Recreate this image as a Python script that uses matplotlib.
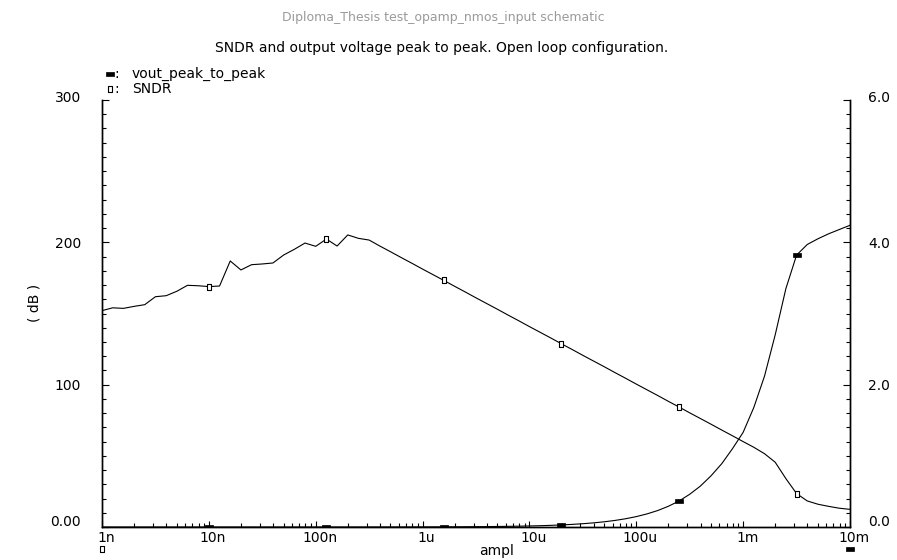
import numpy as np
import matplotlib
matplotlib.use("Agg")
import matplotlib.pyplot as plt
from matplotlib.ticker import FixedLocator, FixedFormatter, LogLocator, NullFormatter, MultipleLocator
from matplotlib.transforms import ScaledTranslation

# ---- sweep: input amplitude, 10 points per decade from 1n to 10m ----
ampl = np.logspace(-9, -2, 71)

# SNDR (dB), left axis
sndr_db = [
    152.0, 154.0, 153.6, 155.0, 156.2, 161.8, 162.5, 165.6, 169.8, 169.5,
    168.9, 169.3, 186.9, 180.6, 184.3, 184.8, 185.5, 191.1, 195.1, 199.5,
    197.2, 202.3, 197.4, 205.2, 202.8, 201.6, 197.4, 193.4, 189.3, 185.3,
    181.2, 177.2, 173.2, 169.1, 165.1, 161.0, 157.0, 153.0, 148.9, 144.9,
    140.8, 136.8, 132.8, 128.7, 124.7, 120.6, 116.6, 112.6, 108.5, 104.5,
    100.4, 96.4, 92.4, 88.3, 84.3, 80.2, 76.2, 72.2, 68.1, 64.1,
    60.0, 56.0, 51.5, 45.5, 34.0, 23.5, 18.3, 16.0, 14.5, 13.2,
    12.4,
]

# output voltage peak to peak (V), right axis
vout_pp = [
    1.46e-6, 1.84e-6, 2.31e-6, 2.91e-6, 3.67e-6, 4.62e-6, 5.81e-6, 7.32e-6, 9.21e-6, 1.16e-5,
    1.46e-5, 1.84e-5, 2.31e-5, 2.91e-5, 3.67e-5, 4.62e-5, 5.81e-5, 7.32e-5, 9.21e-5, 1.16e-4,
    1.46e-4, 1.84e-4, 2.31e-4, 2.91e-4, 3.67e-4, 4.62e-4, 5.81e-4, 7.32e-4, 9.21e-4, 1.16e-3,
    1.46e-3, 1.84e-3, 2.31e-3, 2.91e-3, 3.67e-3, 4.62e-3, 5.81e-3, 7.32e-3, 9.21e-3, 0.0116,
    0.0146, 0.0184, 0.0231, 0.0291, 0.0367, 0.0462, 0.0581, 0.0732, 0.0921, 0.116,
    0.146, 0.184, 0.231, 0.291, 0.365, 0.46, 0.575, 0.72, 0.89, 1.10,
    1.33, 1.68, 2.12, 2.70, 3.35, 3.82, 3.97, 4.05, 4.12, 4.18,
    4.24,
]

x_ticks = [1e-9, 1e-8, 1e-7, 1e-6, 1e-5, 1e-4, 1e-3, 1e-2]
x_tick_labels = ["1n", "10n", "100n", "1u", "10u", "100u", "1m", "10m"]
left_ticks = [0, 100, 200, 300]
left_tick_labels = ["0.00", "100", "200", "300"]
right_ticks = [0.0, 2.0, 4.0, 6.0]
right_tick_labels = ["0.0", "2.0", "4.0", "6.0"]

header = "Diploma_Thesis test_opamp_nmos_input schematic"
title = "SNDR and output voltage peak to peak. Open loop configuration."
legend_names = ["vout_peak_to_peak", "SNDR"]

W, H = 897, 560
plt.rcParams["font.family"] = ["DejaVu Sans"]

fig = plt.figure(figsize=(W / 100, H / 100), dpi=100)
fig.patch.set_facecolor("white")


def fpx(x, y):
    """pixel position (from top-left) to figure fraction"""
    return x / W, 1 - y / H


x0, y0 = fpx(102, 527)
x1, y1 = fpx(850, 100)
ax = fig.add_axes([x0, y0, x1 - x0, y1 - y0])
ax2 = ax.twinx()

# marker shapes: hollow upright box for SNDR, filled flat bar for vout
box = [(-0.3, -0.5), (0.3, -0.5), (0.3, 0.5), (-0.3, 0.5), (-0.3, -0.5)]
bar = [(-0.5, -0.2), (0.5, -0.2), (0.5, 0.2), (-0.5, 0.2), (-0.5, -0.2)]
mark_idx = [10, 21, 32, 43, 54, 65]
box_kw = dict(marker=box, markersize=5, markerfacecolor="white",
              markeredgecolor="black", markeredgewidth=0.8)
bar_kw = dict(marker=bar, markersize=5.5, markerfacecolor="black",
              markeredgecolor="black", markeredgewidth=0.5)

ax.plot(ampl, sndr_db, color="black", lw=0.8, markevery=mark_idx, **box_kw)
ax2.plot(ampl, vout_pp, color="black", lw=0.8, markevery=mark_idx, **bar_kw)

ax.set_xscale("log")
ax.set_xlim(1e-9, 1e-2)
ax.set_ylim(0, 300)
ax2.set_ylim(0, 6.0)

for a in (ax, ax2):
    a.spines["top"].set_visible(False)
    for s in ("left", "right", "bottom"):
        a.spines[s].set_linewidth(1.0)
    a.patch.set_visible(False)

ax.xaxis.set_major_locator(FixedLocator(x_ticks))
ax.xaxis.set_major_formatter(FixedFormatter(x_tick_labels))
ax.xaxis.set_minor_locator(LogLocator(base=10, subs=np.arange(2, 10), numticks=20))
ax.xaxis.set_minor_formatter(NullFormatter())

ax.yaxis.set_major_locator(FixedLocator(left_ticks))
ax.yaxis.set_major_formatter(FixedFormatter(left_tick_labels))
ax.yaxis.set_minor_locator(MultipleLocator(10))

ax2.yaxis.set_major_locator(FixedLocator(right_ticks))
ax2.yaxis.set_major_formatter(FixedFormatter(right_tick_labels))
ax2.yaxis.set_minor_locator(MultipleLocator(0.2))

ax.tick_params(axis="x", which="both", direction="in", top=False, pad=3,
               labelsize=10, colors="black")
ax.tick_params(axis="x", which="major", length=4, width=0.8)
ax.tick_params(axis="x", which="minor", length=3, width=0.8)
ax.tick_params(axis="y", which="both", direction="in", right=False, pad=15,
               labelsize=10)
ax.tick_params(axis="y", which="major", length=5, width=0.8)
ax.tick_params(axis="y", which="minor", length=3, width=0.8)
ax2.tick_params(axis="y", which="both", direction="in", left=False, pad=13,
                labelsize=10)
ax2.tick_params(axis="y", which="major", length=5, width=0.8)
ax2.tick_params(axis="y", which="minor", length=3, width=0.8)

# tick label nudges
shift_x = ScaledTranslation(4 / 100, 0, fig.dpi_scale_trans)
for lab in ax.get_xticklabels():
    lab.set_transform(lab.get_transform() + shift_x)
for a in (ax, ax2):
    labs = a.get_yticklabels()
    labs[0].set_transform(labs[0].get_transform() + ScaledTranslation(0, 6 / 100, fig.dpi_scale_trans))
    labs[-1].set_transform(labs[-1].get_transform() + ScaledTranslation(0, 4 / 100, fig.dpi_scale_trans))

# header and title
fig.text(*fpx(443, 17), header, ha="center", va="center", fontsize=9,
         color="#9a9a9a")
fig.text(*fpx(442, 48), title, ha="center", va="center", fontsize=10,
         color="black")

# axis labels
fig.text(*fpx(35, 303), "( dB )", rotation=90, ha="center", va="center",
         fontsize=10)
fig.text(*fpx(497, 551), "ampl", ha="center", va="center", fontsize=10)

# legend
legend_rows = [(74, bar_kw), (89, box_kw)]
for (yy, kw), name in zip(legend_rows, legend_names):
    fx, fy = fpx(110, yy)
    fig.add_artist(plt.Line2D([fx], [fy], linestyle="none", **kw))
    fig.text(*fpx(114, yy), ":", ha="left", va="center", fontsize=10)
    fig.text(*fpx(132, yy), name, ha="left", va="center", fontsize=10)

# axis ownership markers under the x axis ends
for xx, kw in [(102, box_kw), (850, bar_kw)]:
    fx, fy = fpx(xx, 549)
    fig.add_artist(plt.Line2D([fx], [fy], linestyle="none", **kw))

fig.savefig("out.png", dpi=100)
